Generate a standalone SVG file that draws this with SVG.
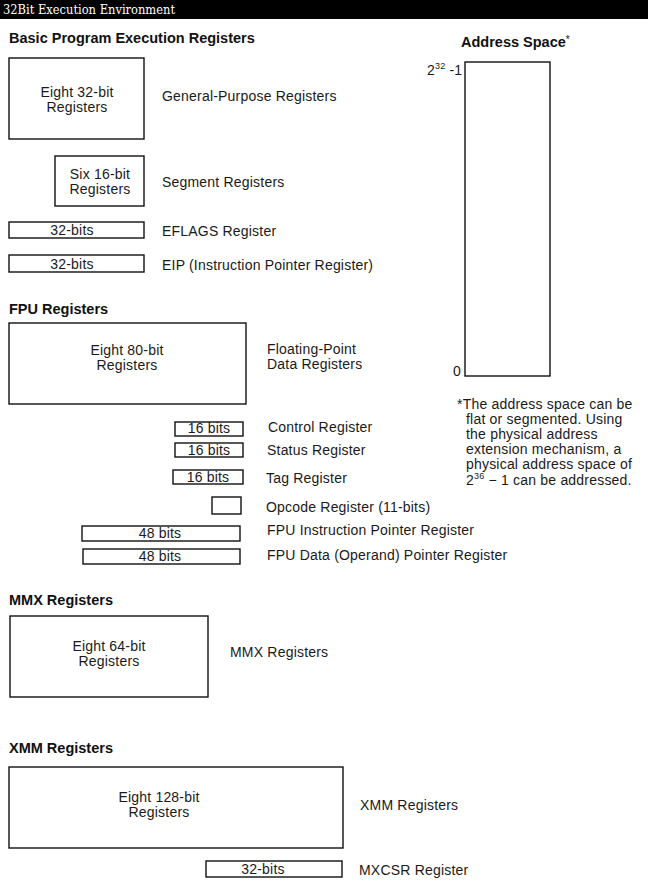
<svg xmlns="http://www.w3.org/2000/svg" width="648" height="888" viewBox="0 0 648 888">
<style>
.t{font-family:"Liberation Sans",Arial,sans-serif;font-size:14px;letter-spacing:0.2px;fill:#1a1a1a}
.c{text-anchor:middle}
.h{font-family:"Liberation Sans",Arial,sans-serif;font-size:14.5px;font-weight:bold;fill:#111}
.b{fill:#fff;stroke:#111;stroke-width:1.4}
</style>
<rect x="0" y="0" width="648" height="19" fill="#000"/>
<text x="3" y="14" font-family="'DejaVu Serif','Liberation Serif',serif" font-size="13" fill="#fff" textLength="172" lengthAdjust="spacingAndGlyphs">32Bit Execution Environment</text>

<text class="h" x="9" y="43">Basic Program Execution Registers</text>
<g id="gpr"><rect class="b" x="9" y="58" width="135" height="81"/><text class="t c" x="77" y="97">Eight 32-bit</text><text class="t c" x="77" y="112">Registers</text><text class="t" x="162" y="101">General-Purpose Registers</text></g>
<g id="seg"><rect class="b" x="55" y="156" width="89" height="50"/><text class="t c" x="100" y="179">Six 16-bit</text><text class="t c" x="100" y="194">Registers</text><text class="t" x="162" y="187">Segment Registers</text></g>
<g id="eflags"><rect class="b" x="9" y="222" width="135" height="16"/><text class="t c" x="72" y="235">32-bits</text><text class="t" x="162" y="236">EFLAGS Register</text></g>
<g id="eip"><rect class="b" x="9" y="255" width="135" height="17"/><text class="t c" x="72" y="269">32-bits</text><text class="t" x="162" y="270">EIP (Instruction Pointer Register)</text></g>

<g id="addr">
<text x="461" y="47" class="h">Address Space<tspan font-weight="normal" font-size="10" dy="-4">*</tspan></text>
<rect class="b" x="465" y="62" width="85" height="314"/>
<text class="t" x="427" y="75">2<tspan font-size="9" dy="-6">32</tspan><tspan dy="6"> -1</tspan></text>
<text class="t" x="453" y="376">0</text>
<text class="t" x="457" y="409">*The address space can be</text>
<text class="t" x="466" y="424">flat or segmented. Using</text>
<text class="t" x="466" y="439">the physical address</text>
<text class="t" x="466" y="454">extension mechanism, a</text>
<text class="t" x="466" y="469">physical address space of</text>
<text class="t" x="466" y="485">2<tspan font-size="9" dy="-6">36</tspan><tspan dy="6"> − 1 can be addressed.</tspan></text>
</g>

<text class="h" x="9" y="314">FPU Registers</text>
<g id="fpu"><rect class="b" x="9" y="323" width="237" height="81"/><text class="t c" x="127" y="355">Eight 80-bit</text><text class="t c" x="127" y="370">Registers</text><text class="t" x="267" y="354">Floating-Point</text><text class="t" x="267" y="369">Data Registers</text></g>
<g id="ctrl"><rect class="b" x="175" y="422" width="68" height="14"/><text class="t c" x="209" y="433">16 bits</text><text class="t" x="268" y="432">Control Register</text></g>
<g id="status"><rect class="b" x="175" y="443" width="68" height="14"/><text class="t c" x="209" y="455">16 bits</text><text class="t" x="267" y="455">Status Register</text></g>
<g id="tag"><rect class="b" x="173" y="470" width="70" height="14"/><text class="t c" x="208" y="482">16 bits</text><text class="t" x="266" y="483">Tag Register</text></g>
<g id="opcode"><rect class="b" x="212" y="497" width="29" height="17"/><text class="t" x="266" y="512">Opcode Register (11-bits)</text></g>
<g id="fip"><rect class="b" x="82" y="526" width="158" height="15"/><text class="t c" x="160" y="538">48 bits</text><text class="t" x="267" y="535">FPU Instruction Pointer Register</text></g>
<g id="fdp"><rect class="b" x="83" y="549" width="157" height="15"/><text class="t c" x="160" y="561">48 bits</text><text class="t" x="267" y="560">FPU Data (Operand) Pointer Register</text></g>

<text class="h" x="9" y="605">MMX Registers</text>
<g id="mmx"><rect class="b" x="10" y="616" width="198" height="81"/><text class="t c" x="109" y="651">Eight 64-bit</text><text class="t c" x="109" y="666">Registers</text><text class="t" x="230" y="657">MMX Registers</text></g>

<text class="h" x="9" y="753">XMM Registers</text>
<g id="xmm"><rect class="b" x="9" y="767" width="334" height="81"/><text class="t c" x="159" y="802">Eight 128-bit</text><text class="t c" x="159" y="817">Registers</text><text class="t" x="360" y="810">XMM Registers</text></g>
<g id="mxcsr"><rect class="b" x="206" y="861" width="136" height="16"/><text class="t c" x="263" y="874">32-bits</text><text class="t" x="359" y="875">MXCSR Register</text></g>
<g id="connectors"/>
</svg>
